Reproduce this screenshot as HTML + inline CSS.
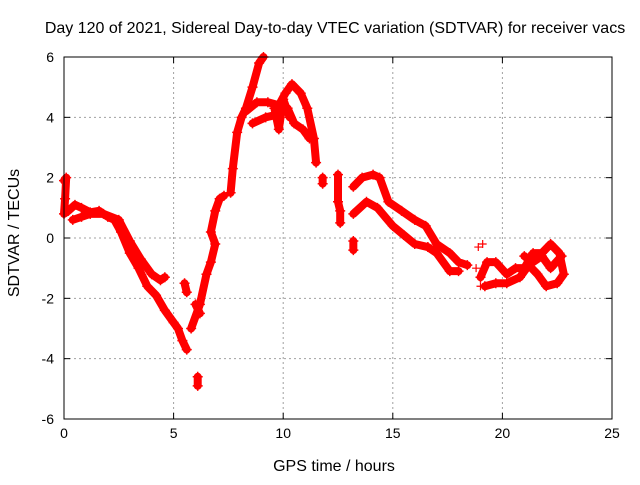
<!DOCTYPE html>
<html><head><meta charset="utf-8"><style>
body{margin:0;background:#fff}
svg text{font-family:"Liberation Sans",sans-serif;font-size:14px;fill:#000}
svg text.big{font-size:16px}
</style></head><body>
<svg id="chart" width="640" height="480" xmlns="http://www.w3.org/2000/svg">
<rect width="640" height="480" fill="#fff"/>
<text class="big" x="335" y="33" text-anchor="middle">Day 120 of 2021, Sidereal Day-to-day VTEC variation (SDTVAR) for receiver vacs</text>
<g id="grid"></g>
<g id="ticks"></g>
<g id="marks"></g>
<rect x="64" y="57" width="548" height="362" fill="none" stroke="#000" stroke-width="1"/>
<text class="big" x="334" y="471" text-anchor="middle">GPS time / hours</text>
<text class="big" transform="translate(19,233) rotate(-90)" text-anchor="middle">SDTVAR / TECUs</text>
</svg>
<script>
const xTicks=[0,5,10,15,20,25];
const yTicks=[-6,-4,-2,0,2,4,6];
const trackA=[[0,1.9],[0.1,2.0],[0.05,1.3],[0,0.8],[0.2,0.9],[0.5,1.1],[0.8,1.0],[1.2,0.85],[1.6,0.9],[2.0,0.7],[2.3,0.6],[2.6,0.2],[3.0,-0.5],[3.4,-1.0],[3.8,-1.6],[4.2,-1.9],[4.6,-2.4],[5.0,-2.8],[5.2,-3.0],[5.4,-3.4],[5.6,-3.7]];
const trackB=[[0.4,0.6],[0.8,0.7],[1.2,0.8],[1.8,0.8],[2.5,0.6],[3.0,-0.1],[3.5,-0.7],[4.0,-1.2],[4.4,-1.4],[4.6,-1.3]];
const blobs=[[[5.5,-1.5],[5.6,-1.8]],[[6.0,-2.2],[6.2,-2.5]],[[6.1,-4.6],[6.1,-4.9]],[[11.8,1.8],[11.8,2.0]],[[12.5,2.1],[12.5,1.2],[12.6,0.9],[12.6,0.5]],[[13.2,-0.1],[13.2,-0.4]]];
const trackRise=[[5.8,-3.0],[6.2,-2.2],[6.5,-1.2],[6.7,-0.8],[6.9,-0.2],[6.7,0.2],[6.9,0.9],[7.1,1.3],[7.3,1.4]];
const trackPeak=[[7.6,1.5],[7.7,2.3],[7.9,3.5],[8.1,4.0],[8.3,4.3],[8.6,5.0],[8.9,5.8],[9.1,6.0]];
const arcUpper=[[8.3,4.2],[8.8,4.5],[9.3,4.5],[9.8,4.4],[10.1,4.8],[10.4,5.1],[10.8,4.8],[11.1,4.3],[11.4,3.3],[11.5,2.5]];
const arcLower=[[8.6,3.8],[9.2,4.0],[9.8,4.1],[10.2,4.3],[10.5,3.8],[10.9,3.6],[11.2,3.3]];
const arcMid=[[9.6,4.3],[9.8,3.6],[10.0,4.6],[10.3,4.0]];
const humpUpper=[[13.2,1.7],[13.6,2.0],[14.1,2.1],[14.4,2.0],[14.8,1.2],[15.4,0.9],[16.0,0.6],[16.5,0.4],[17.0,-0.2],[17.6,-0.5],[18.0,-0.8],[18.4,-0.9]];
const humpLower=[[13.2,0.8],[13.8,1.2],[14.3,1.0],[15.0,0.4],[15.5,0.1],[16.0,-0.2],[16.6,-0.3],[17.0,-0.5],[17.6,-1.1],[18.0,-1.1]];
const tailLoop=[[19.0,-1.3],[19.3,-0.8],[19.7,-0.8],[20.2,-1.2],[20.6,-1.0],[21.0,-1.0],[21.4,-0.5],[21.8,-0.5],[22.2,-0.2],[22.6,-0.5],[22.8,-1.2],[22.5,-1.5],[22.0,-1.6],[21.6,-1.2],[21.2,-0.9],[20.8,-1.3],[20.2,-1.5],[19.7,-1.5],[19.2,-1.6]];
const tailInner=[[21.0,-0.6],[21.4,-0.8],[21.8,-0.6],[22.2,-1.0],[22.7,-0.6]];
const stray=[[18.9,-0.3],[19.1,-0.2],[19.0,-1.6],[18.8,-1.0]];
const tracks=[trackA,trackB,trackRise,trackPeak,arcUpper,arcLower,arcMid,humpUpper,humpLower,tailLoop,tailInner].concat(blobs);

const X0=64,X1=612,Y0=419,Y1=57;
function xs(t){return X0+(t-0)/(25-0)*(X1-X0);}
function ys(v){return Y0-(v+6)/12*(Y0-Y1);}
const NS="http://www.w3.org/2000/svg";
const grid=document.getElementById('grid'),ticks=document.getElementById('ticks'),marks=document.getElementById('marks');
function mk(tag,attrs,parent){const e=document.createElementNS(NS,tag);for(const k in attrs)e.setAttribute(k,attrs[k]);parent.appendChild(e);return e;}
xTicks.forEach(t=>{
 const x=xs(t);
 if(t>0&&t<25){const g=mk('line',{x1:x,x2:x,y1:Y1,y2:Y0,stroke:'#a0a0a0','stroke-dasharray':'2,3'},grid);
 
 }
 mk('line',{x1:x,x2:x,y1:Y0,y2:Y0-6,stroke:'#000'},ticks);mk('line',{x1:x,x2:x,y1:Y1,y2:Y1+6,stroke:'#000'},ticks);
 const l=mk('text',{x:x,y:Y0+19,'text-anchor':'middle'},ticks);l.textContent=t;
 
 
});
yTicks.forEach(v=>{
 const y=ys(v);
 if(v>-6&&v<6){const g=mk('line',{x1:X0,x2:X1,y1:y,y2:y,stroke:'#a0a0a0','stroke-dasharray':'2,3'},grid);
 
 }
 mk('line',{x1:X0,x2:X0+6,y1:y,y2:y,stroke:'#000'},ticks);mk('line',{x1:X1,x2:X1-6,y1:y,y2:y,stroke:'#000'},ticks);
 const l=mk('text',{x:X0-10,y:y+5,'text-anchor':'end'},ticks);l.textContent=v;
 
 
});
tracks.forEach(tr=>{
 const p=mk('polyline',{points:tr.map(d=>xs(d[0])+','+ys(d[1])).join(' '),fill:'none',stroke:'#ff0000','stroke-width':8,'stroke-linejoin':'round','stroke-linecap':'round'},marks);
 
 
 tr.forEach(d=>{
  const x=xs(d[0]),y=ys(d[1]);
  const m=mk('path',{d:`M${x-5},${y}h10M${x},${y-5}v10`,stroke:'#ff0000','stroke-width':1.5},marks);
  
  
 });
});
stray.forEach(d=>{
 const x=xs(d[0]),y=ys(d[1]);
 const m=mk('path',{d:`M${x-4},${y}h8M${x},${y-4}v8`,stroke:'#ff0000','stroke-width':1.2},marks);
 
 
});
</script>
</body></html>
